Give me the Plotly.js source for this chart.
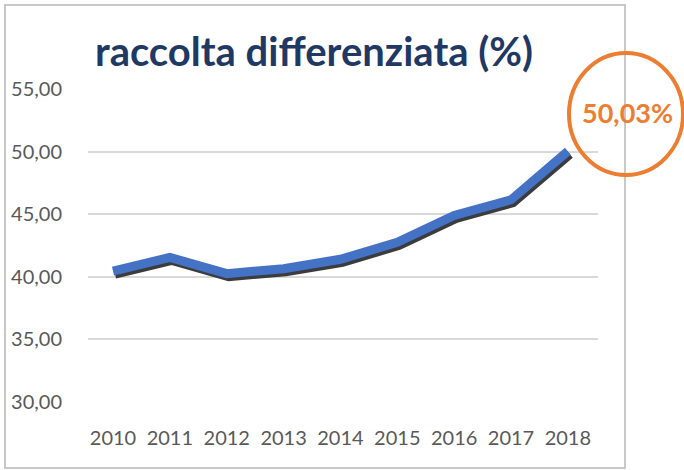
<!DOCTYPE html>
<html>
<head>
<meta charset="utf-8">
<script src="https://cdn.plot.ly/plotly-3.0.1.min.js"></script>
<style>
html,body{margin:0;padding:0;background:#fff;}
#chart{width:684px;height:470px;}
</style>
</head>
<body>
<div id="chart"></div>
<script>
// Data
var years = ["2010","2011","2012","2013","2014","2015","2016","2017","2018"];
var values = [40.45, 41.55, 40.25, 40.65, 41.4, 42.75, 44.9, 46.15, 50.03];
var yTicks = [30, 35, 40, 45, 50, 55];
var titleText = "raccolta differenziata (%)";
var calloutText = "50,03%";

// Layout geometry (pixels)
var FW = 684, FH = 470;
var L = 88, R = 84, T = 89, B = 65;
var W = FW - L - R, H = FH - T - B;
var sx = 2, sy = 3; // shadow offset
function px(x){ return (x - L) / W; }
function py(y){ return (FH - B - y) / H; }

var mainX = [0, (W - sx) / W], mainY = [sy / H, 1];
var shadX = [sx / W, 1], shadY = [0, (H - sy) / H];

var traces = [
  { // base subplot: axes and gridlines only
    x: [], y: [], xaxis: 'x', yaxis: 'y',
    type: 'scatter', mode: 'lines', hoverinfo: 'skip', showlegend: false
  },
  { // drop shadow of the line
    x: years, y: values, xaxis: 'x2', yaxis: 'y2',
    type: 'scatter', mode: 'lines',
    line: {color: '#3c3c3c', width: 9},
    hoverinfo: 'skip', showlegend: false
  },
  { // blue line
    x: years, y: values, xaxis: 'x3', yaxis: 'y3',
    type: 'scatter', mode: 'lines',
    line: {color: '#4472C4', width: 9},
    showlegend: false
  }
];

var xr = [-0.44, 8.53];
var yr = [30, 55];

function hiddenX(dom, anc){ return {type:'category', categoryarray: years, categoryorder:'array', range: xr, domain: dom, anchor: anc, visible: false, fixedrange: true}; }
function hiddenY(dom, anc){ return {range: yr, domain: dom, anchor: anc, visible: false, fixedrange: true}; }

var layout = {
  width: FW, height: FH,
  margin: {l: L, r: R, t: T, b: B, pad: 0},
  paper_bgcolor: '#ffffff', plot_bgcolor: 'rgba(0,0,0,0)',
  separators: ',.',
  font: {family: 'Lato, "Open Sans", sans-serif', color: '#595959'},
  showlegend: false,
  title: {
    text: '<b>' + titleText + '</b>',
    font: {family: 'Lato, sans-serif', size: 40, weight: 900, color: '#1F3864'},
    xref: 'container', x: 314 / FW, xanchor: 'center',
    yref: 'container', y: 1 - 52 / FH, yanchor: 'middle'
  },
  xaxis: {
    type: 'category', categoryarray: years, categoryorder: 'array',
    range: xr, domain: mainX, anchor: 'y',
    showgrid: false, zeroline: false, showline: false,
    ticks: '', ticklabelstandoff: 22,
    tickfont: {size: 20, color: '#595959'}
  },
  yaxis: {
    range: yr, domain: mainY, anchor: 'x',
    tickvals: yTicks, tickformat: '.2f',
    showgrid: true, gridcolor: '#D9D9D9', gridwidth: 2,
    zeroline: false, showline: false,
    ticks: '', ticklabelstandoff: 25,
    tickfont: {size: 20, color: '#595959'}
  },
  xaxis2: hiddenX(shadX, 'y2'),
  yaxis2: hiddenY(shadY, 'x2'),
  xaxis3: hiddenX(mainX, 'y3'),
  yaxis3: hiddenY(mainY, 'x3'),
  shapes: [
    {
      type: 'rect', xref: 'paper', yref: 'paper',
      x0: px(5), x1: px(625), y0: py(468), y1: py(5),
      line: {color: '#C8C8C8', width: 2}, fillcolor: 'rgba(0,0,0,0)', layer: 'below'
    },
    {
      type: 'circle', xref: 'paper', yref: 'paper',
      x0: px(569), x1: px(683), y0: py(175), y1: py(53),
      line: {color: '#ED7D31', width: 4}, fillcolor: 'rgba(0,0,0,0)', layer: 'above'
    }
  ],
  annotations: [
    {
      text: '<b>' + calloutText + '</b>', xref: 'paper', yref: 'paper',
      x: px(627), y: py(113), xanchor: 'center', yanchor: 'middle',
      showarrow: false,
      font: {family: 'Lato, sans-serif', size: 27, color: '#ED7D31'}
    }
  ]
};

Plotly.newPlot('chart', traces, layout, {displayModeBar: false, staticPlot: true});
</script>
</body>
</html>
